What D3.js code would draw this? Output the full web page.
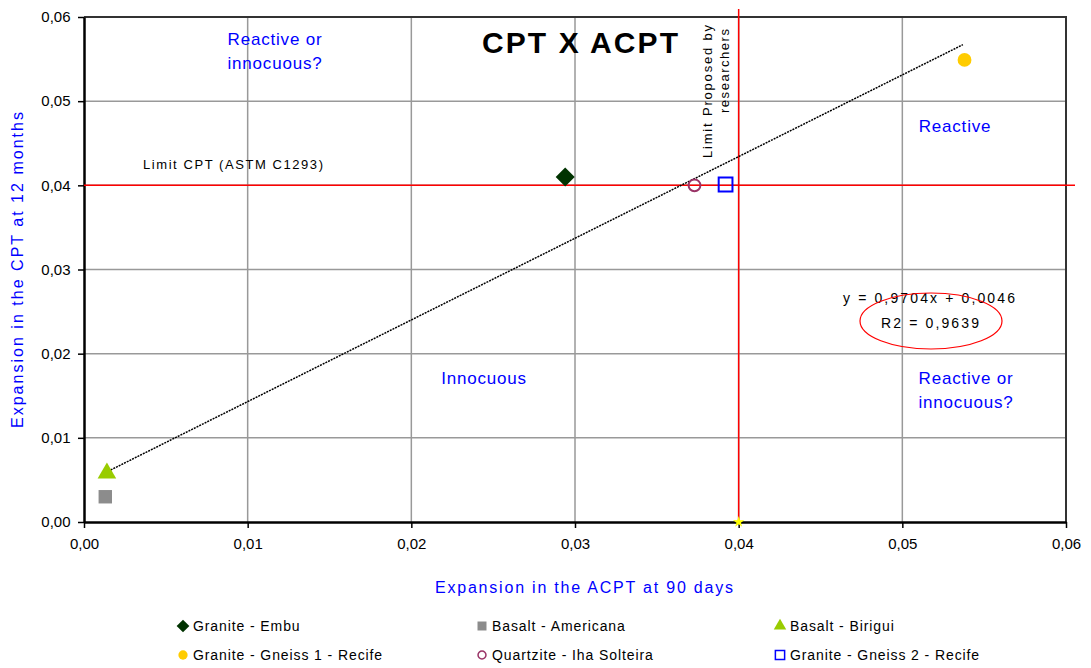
<!DOCTYPE html>
<html lang="en">
  <head>
    <title>CPT X ACPT</title>
    <meta charset="utf-8" />
    <script src="https://d3js.org/d3.v7.min.js"></script>
    <style>
      body { margin: 0; background: #ffffff; }
      text { font-family: "Liberation Sans", Arial, sans-serif; }
    </style>
  </head>
  <body>
    <svg width="1091" height="668" xmlns="http://www.w3.org/2000/svg" id="target"></svg>
    <script>
        // data
        const series = ["Granite - Embu", "Basalt - Americana", "Basalt - Birigui",
                        "Granite - Gneiss 1 - Recife", "Quartzite - Iha Solteira", "Granite - Gneiss 2 - Recife"];
        const acpt90 = [0.0294, 0.0013, 0.0014, 0.0538, 0.0373, 0.0392];
        const cpt12 = [0.0410, 0.0030, 0.0058, 0.0549, 0.0400, 0.0401];
        const ticks = [0, 0.01, 0.02, 0.03, 0.04, 0.05, 0.06];
        const trend = { slope: 0.9704, intercept: 0.0046, r2: 0.9639, from: 0.0013, to: 0.0537 };
        const limitCPT = 0.04;
        const limitACPT = 0.04;

        const marker_def = [
          { shape: d3.symbolDiamond2, size: 230, fill: "#003300", stroke: "none" },
          { shape: d3.symbolSquare, size: 180, fill: "#8c8c8c", stroke: "none" },
          { shape: d3.symbolTriangle, size: 150, fill: "#99cc00", stroke: "none" },
          { shape: d3.symbolCircle, size: 150, fill: "#ffcc00", stroke: "none" },
          { shape: d3.symbolCircle, size: 110, fill: "none", stroke: "#993366" },
          { shape: d3.symbolSquare, size: 190, fill: "none", stroke: "#0000ff" }
        ];
        const legend_def = [
          { x: 183, y: 626 }, { x: 482, y: 626 }, { x: 780, y: 626 },
          { x: 183, y: 655 }, { x: 482, y: 655 }, { x: 780, y: 655 }
        ];
        const blue = "#0000ff";

        const svg = d3.select("#target");
        const plot = { left: 84, right: 1066, top: 17, bottom: 522 };
        const x = d3.scaleLinear().domain([0, 0.06]).range([plot.left, plot.right]);
        const y = d3.scaleLinear().domain([0, 0.06]).range([plot.bottom, plot.top]);
        const fmt = d => d3.format(".2f")(d).replace(".", ",");

        // grid
        svg.append("g")
          .selectAll("line.vgrid")
          .data(ticks.slice(1, -1))
          .enter().append("line")
          .attr("x1", d => x(d)).attr("x2", d => x(d))
          .attr("y1", plot.top).attr("y2", plot.bottom)
          .attr("stroke", "#999999").attr("stroke-width", 1.5);
        svg.append("g")
          .selectAll("line.hgrid")
          .data(ticks.slice(1, -1))
          .enter().append("line")
          .attr("y1", d => y(d)).attr("y2", d => y(d))
          .attr("x1", plot.left).attr("x2", plot.right)
          .attr("stroke", "#999999").attr("stroke-width", 1.5);

        // frame (top and right)
        svg.append("path")
          .attr("d", `M${plot.left},${plot.top} L${plot.right},${plot.top} L${plot.right},${plot.bottom}`)
          .attr("fill", "none").attr("stroke", "#333333").attr("stroke-width", 2);

        // axes
        const xAxis = svg.append("g")
          .attr("transform", `translate(0,${plot.bottom})`)
          .call(d3.axisBottom(x).tickValues(ticks).tickFormat(fmt).tickSize(6).tickSizeOuter(0));
        const yAxis = svg.append("g")
          .attr("transform", `translate(${plot.left},0)`)
          .call(d3.axisLeft(y).tickValues(ticks).tickFormat(fmt).tickSize(6).tickSizeOuter(0));
        [xAxis, yAxis].forEach(a => {
          a.select(".domain").attr("stroke", "#000").attr("stroke-width", 2.5);
          a.selectAll(".tick line").attr("stroke", "#000").attr("stroke-width", 1.5);
          a.selectAll(".tick text").attr("fill", "#000").style("font-size", "15px")
            .style("font-family", "'Liberation Sans', Arial, sans-serif");
        });
        xAxis.selectAll(".tick text").attr("dy", "1.2em");
        yAxis.selectAll(".tick text").attr("dx", "-0.3em");

        // limit lines
        svg.append("line")
          .attr("x1", plot.left).attr("x2", plot.right + 9)
          .attr("y1", y(limitCPT)).attr("y2", y(limitCPT))
          .attr("stroke", "#ff0000").attr("stroke-width", 1.5);
        svg.append("line")
          .attr("x1", x(limitACPT)).attr("x2", x(limitACPT))
          .attr("y1", plot.top - 8).attr("y2", plot.bottom)
          .attr("stroke", "#ff0000").attr("stroke-width", 1.5);
        svg.append("path")
          .attr("d", d3.symbol().type(d3.symbolStar).size(40)())
          .attr("transform", `translate(${x(limitACPT)},${y(0)})`)
          .attr("fill", "#ffff00");

        // trend line
        svg.append("line")
          .attr("x1", x(trend.from)).attr("y1", y(trend.slope * trend.from + trend.intercept))
          .attr("x2", x(trend.to)).attr("y2", y(trend.slope * trend.to + trend.intercept))
          .attr("stroke", "#000").attr("stroke-width", 1.5).attr("stroke-dasharray", "2,1");

        // points
        svg.append("g")
          .selectAll("path.pt")
          .data(series)
          .enter().append("path")
          .attr("class", "pt")
          .attr("d", (d, i) => d3.symbol().type(marker_def[i].shape).size(marker_def[i].size)())
          .attr("transform", (d, i) => `translate(${x(acpt90[i])},${y(cpt12[i])})`)
          .attr("fill", (d, i) => marker_def[i].fill)
          .attr("stroke", (d, i) => marker_def[i].stroke)
          .attr("stroke-width", 2);

        // title
        svg.append("text")
          .attr("x", 580).attr("y", 53)
          .attr("text-anchor", "middle")
          .attr("textLength", 196).attr("lengthAdjust", "spacing")
          .style("font-size", "30px").style("font-weight", "bold")
          .text("CPT X ACPT");

        // region labels
        const regions = [
          { x: 275, y: 45, lines: ["Reactive or", "innocuous?"] },
          { x: 955, y: 132, lines: ["Reactive"] },
          { x: 484, y: 384, lines: ["Innocuous"] },
          { x: 966, y: 384, lines: ["Reactive or", "innocuous?"] }
        ];
        regions.forEach(r => {
          const t = svg.append("text")
            .attr("x", r.x).attr("y", r.y)
            .attr("text-anchor", "middle")
            .attr("fill", blue).style("font-size", "17px").style("letter-spacing", "0.8px");
          r.lines.forEach((l, i) => t.append("tspan").attr("x", r.x).attr("dy", i ? 24 : 0).text(l));
        });

        // limit labels
        svg.append("text")
          .attr("x", 143).attr("y", 169)
          .attr("textLength", 180).attr("lengthAdjust", "spacing")
          .style("font-size", "13px")
          .text("Limit CPT (ASTM C1293)");
        const vt = svg.append("g").attr("transform", "translate(712,158) rotate(-90)");
        vt.append("text").attr("x", 0).attr("y", 0)
          .attr("textLength", 133).attr("lengthAdjust", "spacing")
          .style("font-size", "13px").text("Limit Proposed by");
        vt.append("text").attr("x", 45).attr("y", 17)
          .attr("textLength", 84).attr("lengthAdjust", "spacing")
          .style("font-size", "13px").text("researchers");

        // equation
        svg.append("text")
          .attr("x", 929).attr("y", 303)
          .attr("text-anchor", "middle").style("font-size", "14px")
          .attr("textLength", 172).attr("lengthAdjust", "spacing")
          .text("y = " + String(trend.slope).replace(".", ",") + "x + " + String(trend.intercept).replace(".", ","));
        svg.append("text")
          .attr("x", 930).attr("y", 328)
          .attr("text-anchor", "middle").style("font-size", "14px")
          .attr("textLength", 98).attr("lengthAdjust", "spacing")
          .text("R2 = " + String(trend.r2).replace(".", ","));
        svg.append("ellipse")
          .attr("cx", 931).attr("cy", 321).attr("rx", 71).attr("ry", 28)
          .attr("fill", "none").attr("stroke", "#ff0000").attr("stroke-width", 1.2);

        // axis titles
        svg.append("text")
          .attr("x", 584).attr("y", 593)
          .attr("text-anchor", "middle").attr("fill", blue).style("font-size", "16px")
          .attr("textLength", 298).attr("lengthAdjust", "spacing")
          .text("Expansion in the ACPT at 90 days");
        svg.append("text")
          .attr("transform", "translate(23,270) rotate(-90)")
          .attr("text-anchor", "middle").attr("fill", blue).style("font-size", "16px")
          .attr("textLength", 316).attr("lengthAdjust", "spacing")
          .text("Expansion in the CPT at 12 months");

        // legend
        const leg = svg.append("g")
          .selectAll("g.leg")
          .data(series)
          .enter().append("g")
          .attr("class", "leg")
          .attr("transform", (d, i) => `translate(${legend_def[i].x},${legend_def[i].y})`);
        leg.append("path")
          .attr("d", (d, i) => d3.symbol().type(marker_def[i].shape).size(marker_def[i].size * 0.45)())
          .attr("fill", (d, i) => marker_def[i].fill)
          .attr("stroke", (d, i) => marker_def[i].stroke)
          .attr("stroke-width", 1.5);
        leg.append("text")
          .attr("x", 10).attr("y", 5)
          .style("font-size", "14px").style("letter-spacing", "0.9px")
          .text(d => d);
    </script>
</body>
</html>
